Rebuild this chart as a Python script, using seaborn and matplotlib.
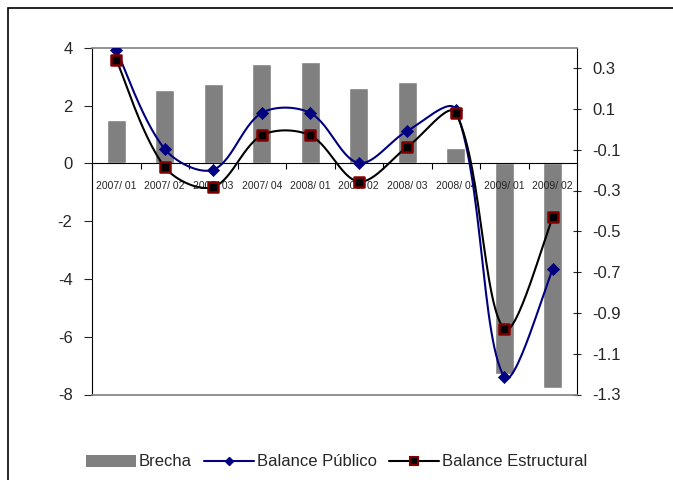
import numpy as np
import matplotlib
matplotlib.use("Agg")
import matplotlib.pyplot as plt
import seaborn as sns
from matplotlib.lines import Line2D
from matplotlib.patches import Patch, Rectangle

# data
periods = ["2007/ 01", "2007/ 02", "2007/ 03", "2007/ 04", "2008/ 01",
           "2008/ 02", "2008/ 03", "2008/ 04", "2009/ 01", "2009/ 02"]
brecha = [1.5, 2.54, 2.74, 3.44, 3.51, 2.61, 2.81, 0.54, -7.28, -7.76]
balance_publico = [0.39, -0.097, -0.198, 0.08, 0.08, -0.165, -0.008, 0.096, -1.214, -0.686]
balance_estructural = [0.342, -0.185, -0.283, -0.03, -0.03, -0.256, -0.087, 0.08, -0.979, -0.432]

left_ticks = [-8, -6, -4, -2, 0, 2, 4]
right_ticks = [-1.3, -1.1, -0.9, -0.7, -0.5, -0.3, -0.1, 0.1, 0.3]
right_labels = ["-1.3", "-1.1", "-0.9", "-0.7", "-0.5", "-0.3", "-0.1", "0.1", "0.3"]

# pixels per x unit / per y unit on the right axis (for excel-like smoothing)
PX_X = 48.5
PX_Y = 203.75


def smooth(xs, ys, n=30):
    # bezier through the points, tangent length scaled by neighbour chord lengths
    pts = np.column_stack([np.asarray(xs) * PX_X, np.asarray(ys) * PX_Y]).astype(float)
    m = len(pts)
    tang = []
    for i in range(m):
        prev = pts[max(i - 1, 0)]
        nxt = pts[min(i + 1, m - 1)]
        tang.append(nxt - prev)
    dist = [np.hypot(*(pts[i + 1] - pts[i])) for i in range(m - 1)]
    out = []
    for i in range(m - 1):
        p1, p2 = pts[i], pts[i + 1]
        d = dist[i]
        dprev = dist[i - 1] if i > 0 else d
        dnext = dist[i + 1] if i + 1 < m - 1 else d
        c1 = p1 + tang[i] * (d / (dprev + d)) / 3
        c2 = p2 - tang[i + 1] * (d / (d + dnext)) / 3
        t = np.linspace(0, 1, n)[:, None]
        seg = ((1 - t) ** 3) * p1 + 3 * ((1 - t) ** 2) * t * c1 + 3 * (1 - t) * t ** 2 * c2 + t ** 3 * p2
        out.append(seg if i == 0 else seg[1:])
    out = np.vstack(out)
    return out[:, 0] / PX_X, out[:, 1] / PX_Y


sns.set_style("white")
plt.rcParams["font.family"] = ["Liberation Sans", "DejaVu Sans"]
plt.rcParams["axes.unicode_minus"] = False

fig = plt.figure(figsize=(6.73, 4.8), dpi=100)
ax = fig.add_axes([92 / 673, 1 - 394.5 / 480, (577 - 92) / 673, (394.5 - 47.7) / 480])

sns.barplot(x=periods, y=brecha, color="#808080", saturation=1, width=0.4, ax=ax)
ax.set_xlim(-0.5, len(periods) - 0.5)
ax.set_ylim(-8, 4)
ax.set_yticks(left_ticks)
ax.set_yticklabels([str(v) for v in left_ticks])
ax.set_xlabel("")
ax.set_ylabel("")
ax.set_axisbelow(False)

# category axis crosses at zero
ax.spines["bottom"].set_position(("data", 0))
ax.spines["bottom"].set_color("black")
ax.spines["left"].set_color("black")
ax.spines["top"].set_visible(False)
ax.spines["right"].set_visible(False)
ax.set_xticks(np.arange(-0.5, len(periods), 1), minor=True)
ax.tick_params(axis="x", which="major", length=0, pad=13, labelsize=7.5)
ax.tick_params(axis="x", which="minor", length=4, width=0.8, direction="out", color="black", bottom=True)
ax.tick_params(axis="y", length=6, width=0.8, direction="out", left=True, pad=8, labelsize=12)

ax2 = ax.twinx()
xpos = np.arange(len(periods))
sx, sy = smooth(xpos, balance_publico)
ax2.plot(sx, sy, color="#000080", lw=1.5)
sx, sy = smooth(xpos, balance_estructural)
ax2.plot(sx, sy, color="black", lw=1.5)
sns.scatterplot(x=xpos, y=balance_publico, marker="D", s=38, color="#000080",
                edgecolor="#000080", linewidth=0.5, ax=ax2, zorder=4)
sns.scatterplot(x=xpos, y=balance_estructural, marker="s", s=60, color="black",
                edgecolor="#800000", linewidth=1.8, ax=ax2, zorder=5)
ax2.set_ylim(-1.3, 0.4)
ax2.set_yticks(right_ticks)
ax2.set_yticklabels(right_labels)
ax2.set_xlim(-0.5, len(periods) - 0.5)
ax2.spines["left"].set_visible(False)
ax2.spines["right"].set_color("black")
ax2.spines["top"].set_color("#808080")
ax2.spines["bottom"].set_color("#808080")
ax2.spines["top"].set_linewidth(1.2)
ax2.spines["bottom"].set_linewidth(1.2)
ax2.tick_params(axis="y", length=6, width=0.8, direction="inout", right=True, pad=8, labelsize=12)

handles = [
    Patch(facecolor="#808080", edgecolor="none", label="Brecha"),
    Line2D([], [], color="#000080", lw=1.5, marker="D", markersize=4.5, label="Balance Público"),
    Line2D([], [], color="black", lw=1.5, marker="s", markersize=6, markerfacecolor="black",
           markeredgecolor="#800000", markeredgewidth=1.5, label="Balance Estructural"),
]
fig.legend(handles=handles, loc="center", bbox_to_anchor=(0.5, 1 - 462 / 480), ncol=3,
           frameon=False, fontsize=12, handlelength=3.0, handleheight=0.72,
           handletextpad=0.2, columnspacing=0.7)

# outer chart border
fig.patches.append(Rectangle((8 / 673, -0.1), 1.2, 1.1 - 8 / 480, transform=fig.transFigure,
                             fill=False, edgecolor="black", lw=1.2))

fig.savefig("out.png", dpi=100)
